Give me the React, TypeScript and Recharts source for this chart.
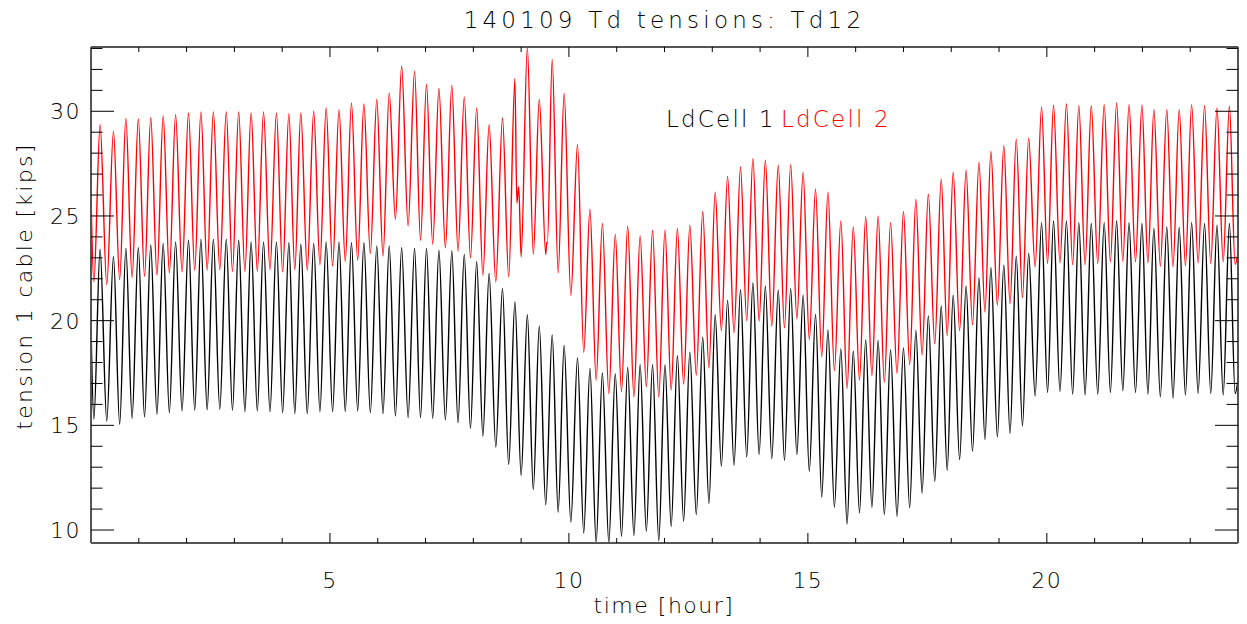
import { Line, LineChart, XAxis, YAxis } from 'recharts';

const W = 1247;
const H = 624;
const FONT = "'DejaVu Sans', 'Liberation Sans', sans-serif";
const INK = '#000';
const FRAME = '#555';

// hours of each oscillation peak (both load cells peak together)
const peakHours = [
  0.19, 0.47, 0.73, 0.99, 1.25, 1.51, 1.77, 2.04, 2.30, 2.56, 2.83, 3.09, 3.35, 3.61, 3.88, 4.14,
  4.39, 4.66, 4.92, 5.19, 5.45, 5.71, 5.98, 6.24, 6.50, 6.77, 7.02, 7.28, 7.55, 7.81, 8.07, 8.33,
  8.61, 8.87, 9.13, 9.38, 9.65, 9.90, 10.18, 10.44, 10.70, 10.97, 11.23, 11.49, 11.75, 12.01, 12.27, 12.53,
  12.80, 13.06, 13.32, 13.59, 13.85, 14.11, 14.38, 14.64, 14.90, 15.16, 15.42, 15.69, 15.95, 16.21, 16.47, 16.73,
  17.00, 17.26, 17.52, 17.79, 18.04, 18.31, 18.58, 18.83, 19.10, 19.36, 19.62, 19.89, 20.14, 20.41, 20.67, 20.93,
  21.20, 21.46, 21.72, 21.99, 22.24, 22.51, 22.77, 23.03, 23.30, 23.56, 23.82,
];
const firstTroughHour = 0.06;
const lastTroughHour = 23.94;

// LdCell 1 (black)
const ld1Start = 19.8;
const ld1End = 17.2;
const ld1Peaks = [
  23.41, 23.05, 23.45, 23.49, 23.61, 23.69, 23.76, 23.84, 23.88, 23.88, 23.88, 23.84, 23.76, 23.76, 23.76, 23.72,
  23.65, 23.69, 23.76, 23.76, 23.73, 23.72, 23.57, 23.57, 23.49, 23.45, 23.45, 23.37, 23.33, 23.16, 22.81, 22.25,
  21.53, 20.89, 20.28, 19.74, 19.32, 18.81, 18.22, 17.72, 17.50, 17.45, 17.77, 17.90, 17.90, 17.88, 18.33, 18.49,
  19.21, 20.28, 20.97, 21.48, 21.80, 21.65, 21.45, 21.53, 21.21, 20.30, 19.56, 18.65, 18.54, 19.08, 19.05, 18.60,
  18.70, 19.53, 20.23, 20.70, 21.21, 21.64, 22.04, 22.53, 22.65, 23.08, 23.21, 24.68, 24.76, 24.76, 24.68, 24.64,
  24.68, 24.77, 24.68, 24.64, 24.40, 24.48, 24.45, 24.68, 24.64, 24.56, 24.64,
];
// first value is the trough before the first peak, then one trough after each peak
const ld1Troughs = [
  15.29,
  15.21, 15.05, 15.34, 15.40, 15.53, 15.61, 15.69, 15.72, 15.74, 15.77, 15.72, 15.66, 15.69, 15.66, 15.61,
  15.56, 15.56, 15.66, 15.66, 15.66, 15.69, 15.61, 15.56, 15.45, 15.37, 15.37, 15.34, 15.26, 15.13, 14.86, 14.49,
  13.96, 13.13, 12.61, 11.93, 11.21, 10.86, 10.38, 9.86, 9.40, 9.40, 9.70, 9.74, 9.94, 9.49, 10.18, 10.42,
  10.74, 11.27, 13.06, 13.10, 13.49, 13.61, 13.41, 13.33, 13.61, 12.81, 11.58, 11.09, 10.29, 10.82, 11.09, 10.74,
  10.66, 11.06, 11.77, 12.33, 12.85, 13.37, 13.77, 14.33, 14.45, 14.62, 14.97, 16.41, 16.57, 16.62, 16.49, 16.46,
  16.49, 16.57, 16.65, 16.57, 16.49, 16.36, 16.30, 16.46, 16.52, 16.52, 16.46, 16.52,
];

// LdCell 2 (red)
const ld2Start = 26.0;
const ld2End = 23.2;
const ld2Peaks = [
  29.36, 29.04, 29.66, 29.63, 29.71, 29.78, 29.84, 29.92, 29.97, 29.97, 29.97, 29.97, 29.92, 29.97, 29.92, 29.89,
  29.92, 30.00, 30.16, 30.08, 30.40, 30.35, 30.56, 30.88, 32.16, 31.92, 31.28, 31.09, 31.23, 30.69, 30.16, 29.36,
  29.68, 31.55, 33.05, 30.56, 32.48, 30.85, 28.40, 25.32, 24.64, 24.12, 24.52, 24.05, 24.32, 24.32, 24.40, 24.56,
  25.21, 26.14, 26.89, 27.34, 27.74, 27.66, 27.42, 27.45, 27.08, 26.28, 26.14, 24.76, 24.48, 24.96, 25.00, 24.68,
  25.21, 25.80, 26.05, 26.76, 27.09, 27.17, 27.55, 28.08, 28.35, 28.67, 28.72, 30.21, 30.29, 30.35, 30.27, 30.27,
  30.32, 30.40, 30.32, 30.29, 30.08, 30.08, 30.08, 30.32, 30.27, 30.16, 30.24,
];
const ld2Troughs = [
  21.85,
  21.72, 21.96, 22.06, 22.12, 22.17, 22.28, 22.33, 22.41, 22.41, 22.44, 22.36, 22.36, 22.36, 22.44, 22.33,
  22.44, 22.41, 22.68, 22.60, 22.84, 22.89, 23.21, 23.08, 24.84, 24.53, 23.84, 23.65, 23.48, 23.32, 23.00, 22.17,
  21.85, 22.09, 23.05, 23.17, 23.16, 22.29, 21.21, 18.49, 17.16, 16.52, 16.62, 16.36, 16.84, 16.36, 16.68, 16.97,
  17.40, 17.74, 19.53, 19.42, 20.00, 19.98, 19.74, 19.66, 20.09, 19.10, 18.28, 17.61, 16.76, 17.16, 17.37, 17.05,
  17.48, 17.90, 18.36, 18.89, 19.29, 19.53, 19.80, 20.41, 20.73, 20.81, 21.10, 22.57, 22.73, 22.76, 22.68, 22.68,
  22.73, 22.81, 22.85, 22.81, 22.76, 22.60, 22.57, 22.62, 22.76, 22.73, 22.81, 22.69,
];
// small glitches in the red trace around 9 h
const ld2Glitches = [
  { t: 8.91, v: 25.62 },
  { t: 8.95, v: 26.4 },
  { t: 9.535, v: 23.75 },
  { t: 9.55, v: 23.7 },
];

const xTicks = [1, 2, 3, 4, 5, 6, 7, 8, 9, 10, 11, 12, 13, 14, 15, 16, 17, 18, 19, 20, 21, 22, 23];
const xLabels = [5, 10, 15, 20];
const yTicks = [10, 11, 12, 13, 14, 15, 16, 17, 18, 19, 20, 21, 22, 23, 24, 25, 26, 27, 28, 29, 30, 31, 32, 33];
const yLabels = [10, 15, 20, 25, 30];
const xDomain = [0, 24];
const yDomain = [9.38, 33.07];

type Pt = { t: number; v: number };

function buildSeries(start: number, peaks: number[], troughs: number[], end: number, extra: Pt[] = []) {
  const pts: Pt[] = [
    { t: 0, v: start },
    { t: firstTroughHour, v: troughs[0] },
  ];
  peakHours.forEach((h, i) => {
    pts.push({ t: h, v: peaks[i] });
    const tt = i + 1 < peakHours.length ? (h + peakHours[i + 1]) / 2 : lastTroughHour;
    pts.push({ t: tt, v: troughs[i + 1] });
  });
  pts.push({ t: 24, v: end });
  return [...pts, ...extra].sort((a, b) => a.t - b.t);
}

const ld1Data = buildSeries(ld1Start, ld1Peaks, ld1Troughs, ld1End);
const ld2Data = buildSeries(ld2Start, ld2Peaks, ld2Troughs, ld2End, ld2Glitches);

const labelStyle = { fontFamily: FONT, fontSize: 22, fontWeight: 200, fill: INK, letterSpacing: 1.5 };

function BottomTick({ x, y, payload }: any) {
  const major = xLabels.includes(payload.value);
  return (
    <g>
      <line x1={x} x2={x} y1={y} y2={y - (major ? 10 : 5)} stroke={INK} strokeWidth={1} />
      {major && (
        <text x={x} y={y + 45} textAnchor="middle" {...labelStyle}>
          {payload.value}
        </text>
      )}
    </g>
  );
}

function TopTick({ x, y, payload }: any) {
  const major = xLabels.includes(payload.value);
  return <line x1={x} x2={x} y1={y} y2={y + (major ? 10 : 5)} stroke={INK} strokeWidth={1} />;
}

function LeftTick({ x, y, payload }: any) {
  const major = yLabels.includes(payload.value);
  return (
    <g>
      <line x1={x} x2={x + (major ? 23 : 11.5)} y1={y} y2={y} stroke={INK} strokeWidth={1} />
      {major && (
        <text x={x - 10} y={y + 8} textAnchor="end" {...labelStyle}>
          {payload.value}
        </text>
      )}
    </g>
  );
}

function RightTick({ x, y, payload }: any) {
  const major = yLabels.includes(payload.value);
  return <line x1={x} x2={x - (major ? 23 : 11.5)} y1={y} y2={y} stroke={INK} strokeWidth={1} />;
}

export default function App() {
  const axisLine = { stroke: FRAME, strokeWidth: 2 };
  return (
    <div style={{ position: 'absolute', left: 0, top: 0, width: W, height: H, background: '#fff' }}>
      <LineChart width={W} height={H} margin={{ top: 46, right: 8, bottom: 51, left: 31 }}>
        <XAxis
          xAxisId="bottom"
          orientation="bottom"
          type="number"
          dataKey="t"
          domain={xDomain}
          allowDataOverflow
          ticks={xTicks}
          interval={0}
          tickSize={0}
          tickMargin={0}
          tickLine={false}
          axisLine={axisLine}
          tick={<BottomTick />}
          height={30}
        />
        <XAxis
          xAxisId="top"
          orientation="top"
          type="number"
          dataKey="t"
          domain={xDomain}
          allowDataOverflow
          ticks={xTicks}
          interval={0}
          tickSize={0}
          tickMargin={0}
          tickLine={false}
          axisLine={axisLine}
          tick={<TopTick />}
          height={1}
        />
        <YAxis
          yAxisId="left"
          orientation="left"
          type="number"
          domain={yDomain}
          allowDataOverflow
          ticks={yTicks}
          interval={0}
          tickSize={0}
          tickMargin={0}
          tickLine={false}
          axisLine={axisLine}
          tick={<LeftTick />}
          width={60}
        />
        <YAxis
          yAxisId="right"
          orientation="right"
          type="number"
          domain={yDomain}
          allowDataOverflow
          ticks={yTicks}
          interval={0}
          tickSize={0}
          tickMargin={0}
          tickLine={false}
          axisLine={axisLine}
          tick={<RightTick />}
          width={1}
        />
        <Line
          xAxisId="bottom"
          yAxisId="left"
          data={ld2Data}
          dataKey="v"
          type="monotone"
          stroke="#ff0000"
          strokeWidth={1.4}
          dot={false}
          isAnimationActive={false}
        />
        <Line
          xAxisId="bottom"
          yAxisId="left"
          data={ld1Data}
          dataKey="v"
          type="monotone"
          stroke="#000000"
          strokeWidth={1.4}
          dot={false}
          isAnimationActive={false}
        />
      </LineChart>
      <svg
        width={W}
        height={H}
        style={{ position: 'absolute', left: 0, top: 0, pointerEvents: 'none' }}
      >
        <text x={664.5} y={28} textAnchor="middle" {...labelStyle} fontSize={23} letterSpacing={4.2}>
          140109 Td tensions: Td12
        </text>
        <text x={664} y={613} textAnchor="middle" {...labelStyle}>
          time [hour]
        </text>
        <text
          x={32}
          y={286}
          textAnchor="middle"
          transform="rotate(-90 32 286)"
          {...labelStyle}
          letterSpacing={2.3}
        >
          tension 1 cable [kips]
        </text>
        <text x={666} y={127} {...labelStyle} fontSize={23} letterSpacing={2.2}>
          LdCell 1
        </text>
        <text x={781} y={127} {...labelStyle} fontSize={23} letterSpacing={2.2} fill="#ff0000">
          LdCell 2
        </text>
      </svg>
    </div>
  );
}
